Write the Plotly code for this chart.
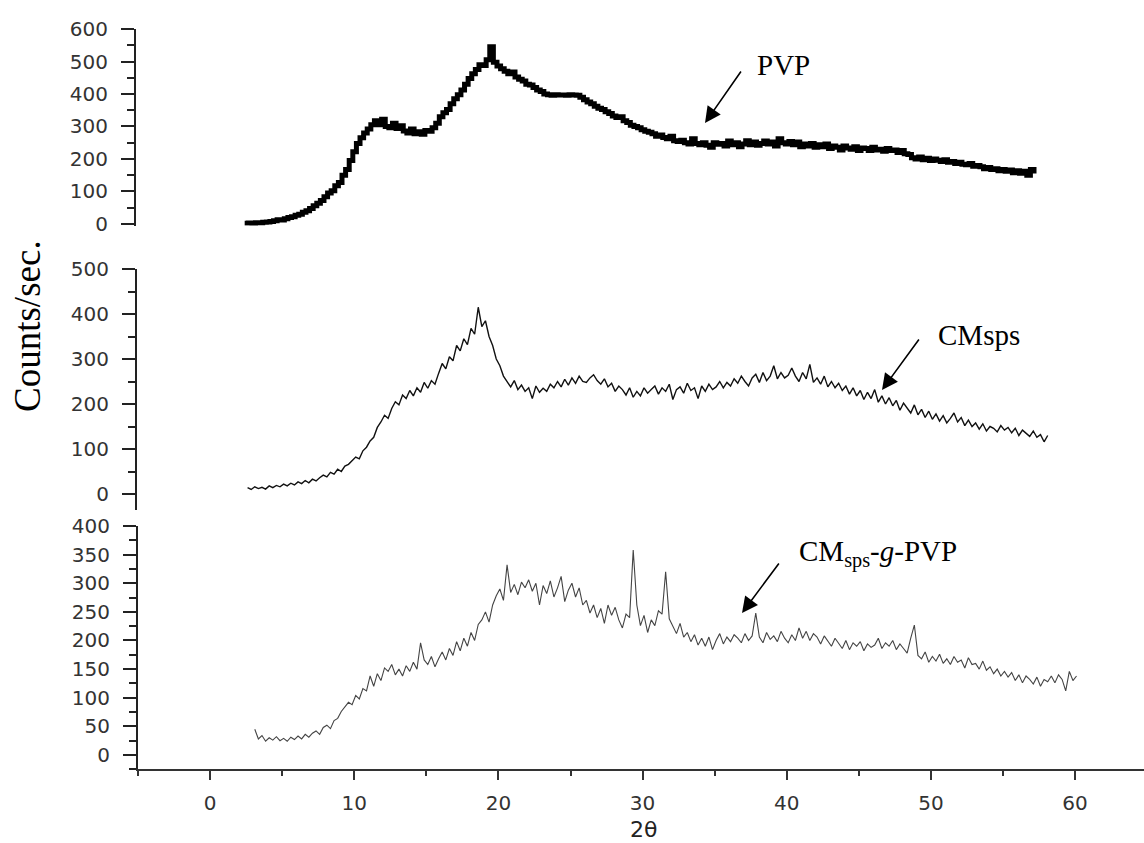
import plotly.graph_objects as go

# ---------------- data ----------------
# PVP (top panel), 2theta starts at 2.4, step 0.25
pvp_x0, pvp_step = 2.4, 0.25
pvp_counts = [
    2, 3, 1, 4, 3, 5, 6, 8, 10, 13, 12, 16, 20, 22, 27, 30,
    36, 41, 48, 56, 64, 72, 84, 95, 102, 118, 128, 150, 168, 195, 222, 248,
    265, 280, 292, 305, 318, 305, 322, 300, 296, 310, 294, 302, 286, 280, 292, 278,
    284, 276, 288, 285, 296, 310, 330, 342, 352, 370, 385, 398, 412, 430, 448, 462,
    475, 490, 488, 505, 545, 498, 486, 478, 470, 462, 468, 452, 445, 440, 430, 428,
    420, 412, 408, 400, 398, 396, 398, 397, 397, 396, 398, 397, 396, 390, 382, 375,
    370, 362, 356, 352, 345, 340, 332, 328, 330, 318, 312, 304, 300, 296, 290, 285,
    282, 278, 270, 274, 266, 262, 270, 256, 254, 258, 250, 246, 262, 248, 244, 250,
    242, 236, 250, 245, 248, 240, 255, 244, 250, 238, 246, 256, 244, 252, 242, 248,
    255, 246, 252, 240, 262, 250, 246, 254, 244, 252, 238, 246, 240, 248, 236, 244,
    238, 246, 232, 240, 236, 228, 240, 234, 230, 238, 226, 234, 232, 226, 236, 228,
    230, 224, 232, 226, 228, 220, 226, 216, 214, 204, 200, 206, 198, 202, 195, 200,
    196, 192, 198, 190, 192, 186, 190, 184, 182, 186, 178, 180, 176, 170, 174, 168,
    170, 164, 168, 162, 166, 158, 164, 156, 162, 150, 168, 155,
]

# CMsps (middle panel), 2theta starts at 2.6, step 0.25
cms_x0, cms_step = 2.6, 0.25
cms_counts = [
    14, 10, 16, 12, 15, 11, 18, 14, 19, 16, 22, 18, 24, 20, 27, 23,
    30, 25, 33, 29, 36, 42, 38, 48, 44, 55, 50, 62, 66, 74, 82, 78,
    96, 104, 118, 126, 148, 160, 175, 168, 190, 205, 198, 220, 212, 230, 218, 236,
    226, 248, 235, 252, 244, 268, 290, 278, 305, 296, 330, 318, 345, 332, 368, 355,
    415, 372, 385, 350, 330, 300, 285, 262, 250, 238, 252, 232, 242, 228, 236, 212,
    240, 226, 235, 228, 244, 236, 250, 238, 255, 242, 258, 246, 262, 250, 248, 258,
    265, 252, 244, 256, 238, 246, 228, 240, 232, 220, 236, 215, 228, 218, 236, 224,
    232, 240, 222, 236, 228, 244, 210, 232, 238, 224, 246, 230, 236, 212, 240, 228,
    244, 232, 238, 250, 236, 248, 240, 256, 246, 262, 250, 240, 258, 266, 248, 270,
    252, 262, 285, 256, 270, 258, 264, 280, 262, 250, 270, 256, 288, 248, 258, 244,
    262, 238, 250, 236, 246, 230, 240, 222, 236, 218, 230, 210, 226, 212, 232, 204,
    218, 200, 214, 196, 208, 186, 202, 192, 180, 198, 176, 188, 170, 184, 166, 178,
    162, 174, 158, 168, 180, 160, 170, 152, 164, 150, 158, 144, 156, 140, 150, 146,
    138, 152, 142, 148, 136, 146, 130, 142, 134, 128, 140, 126, 132, 116, 130,
]

# CMsps-g-PVP (bottom panel), 2theta starts at 3.1, step 0.25
graft_x0, graft_step = 3.1, 0.25
graft_counts = [
    45, 28, 34, 24, 30, 26, 32, 25, 29, 24, 31, 27, 33, 28, 36, 31,
    38, 42, 36, 48, 52, 46, 60, 64, 76, 84, 92, 88, 104, 98, 116, 112,
    138, 120, 142, 130, 152, 146, 158, 140, 150, 138, 156, 146, 162, 150, 196, 166,
    158, 172, 154, 168, 180, 166, 186, 174, 198, 182, 204, 190, 214, 200, 228, 236,
    250, 232, 262, 278, 290, 270, 332, 284, 298, 280, 302, 292, 306, 286, 300, 262,
    296, 282, 304, 276, 292, 312, 268, 288, 300, 276, 292, 262, 270, 248, 262, 240,
    256, 230, 262, 244, 258, 236, 222, 246, 240, 358, 262, 226, 244, 214, 236, 226,
    252, 246, 320, 238, 224, 212, 230, 206, 214, 198, 210, 192, 204, 190, 206, 184,
    200, 212, 194, 206, 198, 210, 204, 196, 212, 200, 208, 248, 206, 196, 214, 202,
    208, 198, 216, 204, 196, 210, 200, 222, 204, 216, 200, 212, 206, 194, 208, 198,
    190, 204, 196, 186, 200, 184, 196, 190, 198, 182, 194, 188, 192, 204, 186, 196,
    190, 200, 184, 194, 186, 178, 204, 227, 174, 168, 180, 162, 172, 164, 176, 160,
    168, 158, 172, 162, 166, 152, 170, 158, 160, 150, 164, 148, 154, 142, 150, 138,
    146, 136, 144, 130, 140, 126, 138, 132, 124, 136, 120, 132, 128, 138, 126, 140,
    132, 112, 146, 130, 138,
]

x_ticks = [0, 10, 20, 30, 40, 50, 60]
labels = ["PVP", "CMsps", "CM<sub>sps</sub>-<i>g</i>-PVP"]

# ---------------- figure ----------------
W, H = 1144, 843


def px(x):
    return x / W


def py(y):
    return (H - y) / H


def grid(x0, step, n):
    return [round(x0 + step * i, 3) for i in range(n)]


fig = go.Figure()
fig.add_trace(go.Scatter(x=grid(pvp_x0, pvp_step, len(pvp_counts)), y=pvp_counts,
                         mode="lines", line=dict(color="#000000", width=5, shape="hv"),
                         xaxis="x", yaxis="y3", name="PVP"))
fig.add_trace(go.Scatter(x=grid(cms_x0, cms_step, len(cms_counts)), y=cms_counts,
                         mode="lines", line=dict(color="#111111", width=1.4),
                         xaxis="x", yaxis="y2", name="CMsps"))
fig.add_trace(go.Scatter(x=grid(graft_x0, graft_step, len(graft_counts)), y=graft_counts,
                         mode="lines", line=dict(color="#444444", width=1.1),
                         xaxis="x", yaxis="y", name="CMsps-g-PVP"))

tick_font = dict(family="DejaVu Sans, Arial, sans-serif", size=20, color="#333333")
serif = "Liberation Serif, Times New Roman, serif"

common_y = dict(showline=True, linecolor="#222222", linewidth=2, ticks="outside",
                ticklen=13, tickwidth=2, tickcolor="#222222", showgrid=False,
                zeroline=False, tickfont=tick_font, ticklabelstandoff=9,
                automargin=False)

fig.update_layout(
    template="none",
    width=W, height=H, margin=dict(l=0, r=0, t=0, b=0, pad=0, autoexpand=False),
    paper_bgcolor="white", plot_bgcolor="rgba(0,0,0,0)", showlegend=False,
    xaxis=dict(domain=[px(138), 1.0], range=[-5, 64.78], anchor="y",
               showline=True, linecolor="#333333", linewidth=2,
               ticks="outside", ticklen=9, tickwidth=2, tickcolor="#333333",
               tickvals=x_ticks, showgrid=False, zeroline=False,
               tickfont=tick_font, ticklabelstandoff=6, automargin=False,
               minor=dict(dtick=5, tick0=0, ticks="outside", ticklen=5,
                          tickwidth=2, tickcolor="#333333", showgrid=False)),
    yaxis=dict(domain=[py(769.3), py(526)], range=[-25, 400], anchor="x",
               dtick=50, tick0=0,
               minor=dict(dtick=25, tick0=0, ticks="outside", ticklen=7,
                          tickwidth=2, tickcolor="#222222", showgrid=False),
               **common_y),
    yaxis2=dict(domain=[py(509.75), py(269)], range=[-35, 500], anchor="free",
                position=px(136), dtick=100, tick0=0,
                minor=dict(dtick=50, tick0=0, ticks="outside", ticklen=7,
                           tickwidth=2, tickcolor="#222222", showgrid=False),
                **common_y),
    yaxis3=dict(domain=[py(225.6), py(29)], range=[-5, 600], anchor="free",
                position=px(135), dtick=100, tick0=0,
                minor=dict(dtick=50, tick0=0, ticks="outside", ticklen=7,
                           tickwidth=2, tickcolor="#222222", showgrid=False),
                **common_y),
)

ann = []
centre = dict(xref="paper", yref="paper", xanchor="center", yanchor="middle")
label_font = dict(family=serif, size=29, color="black")
# sample labels
ann.append(dict(text=labels[0], x=px(783), y=py(65), showarrow=False, font=label_font, **centre))
ann.append(dict(text=labels[1], x=px(979), y=py(335), showarrow=False, font=label_font, **centre))
ann.append(dict(text=labels[2], x=px(878), y=py(553), showarrow=False, font=label_font, **centre))
# arrows (head position, tail offset in pixels)
for (hx, hy, tx, ty) in [(705, 123, 742, 70), (882, 390, 920, 338), (742, 613, 780, 562)]:
    ann.append(dict(text="", x=px(hx), y=py(hy), xref="paper", yref="paper",
                    showarrow=True, ax=tx - hx, ay=ty - hy, arrowhead=2,
                    arrowsize=2.0, arrowwidth=1.6, arrowcolor="black", standoff=0))
# axis titles
ann.append(dict(text="Counts/sec.", x=px(27), y=py(326), showarrow=False, textangle=-90,
                font=dict(family=serif, size=37, color="black"), **centre))
ann.append(dict(text="2θ", x=px(643), y=py(829), showarrow=False,
                font=dict(family="DejaVu Sans, Arial, sans-serif", size=22, color="#222222"),
                **centre))
fig.update_layout(annotations=ann)

fig.write_html("out.html", config={"displayModeBar": False},
               post_script="document.body.style.margin='0';document.body.style.overflow='hidden';")
